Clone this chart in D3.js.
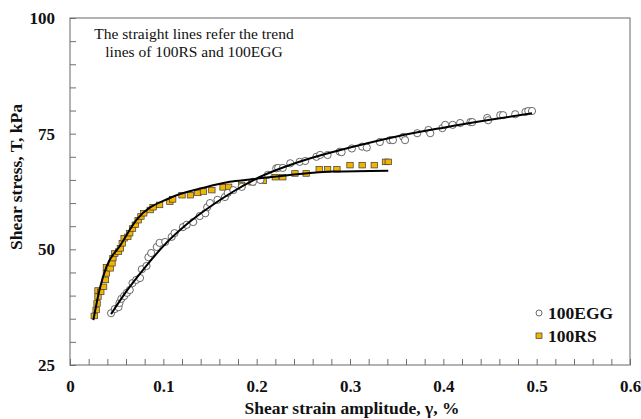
<!DOCTYPE html>
<html>
<head>
  <meta charset="utf-8">
  <title>Shear stress vs shear strain amplitude</title>
  <script src="https://d3js.org/d3.v7.min.js"></script>
  <style>
    body { margin: 0; background: white; }
    svg { display: block; font-family: "Liberation Serif", "DejaVu Serif", serif; }
  </style>
</head>
<body>
<div id="container"></div>
<script>
  const width = 641,
    height = 419;
  const margin = { top: 18, right: 11, bottom: 54, left: 70 };

  // 100EGG measured points [strain %, stress kPa]
  const eggPoints = [
    [0.044, 36.2], [0.048, 37.1], [0.052, 37.5], [0.053, 38.4], [0.055, 39.3],
    [0.058, 39.9], [0.061, 40.6], [0.064, 41.2], [0.067, 42.7], [0.071, 43.4],
    [0.075, 43.8], [0.077, 45.7], [0.082, 46.4], [0.084, 48.3], [0.087, 49.2],
    [0.093, 50.5], [0.096, 51.4], [0.102, 51.6], [0.109, 52.7], [0.112, 53.5],
    [0.121, 54.8], [0.125, 55.3], [0.132, 55.9], [0.139, 57.2], [0.145, 57.8],
    [0.147, 59.1], [0.150, 60.0], [0.158, 60.7], [0.166, 61.3], [0.169, 62.2],
    [0.175, 62.8], [0.184, 63.5], [0.196, 64.6], [0.204, 65.0], [0.212, 66.1],
    [0.221, 67.5], [0.223, 67.6], [0.228, 67.6], [0.236, 68.6], [0.246, 68.9],
    [0.252, 69.1], [0.264, 70.0], [0.268, 70.4], [0.276, 70.4], [0.289, 71.1],
    [0.291, 71.0], [0.302, 71.8], [0.313, 72.2], [0.318, 72.0], [0.332, 73.2],
    [0.343, 73.6], [0.346, 73.6], [0.357, 74.3], [0.359, 73.6], [0.372, 75.1],
    [0.384, 75.8], [0.386, 75.1], [0.399, 76.2], [0.402, 76.9], [0.410, 76.9],
    [0.418, 77.3], [0.429, 77.5], [0.431, 77.5], [0.447, 78.4], [0.448, 77.9],
    [0.461, 79.0], [0.464, 79.0], [0.477, 79.2], [0.488, 79.7], [0.491, 79.9],
    [0.495, 79.9]
  ];

  // 100RS measured points [strain %, stress kPa]
  const rsPoints = [
    [0.026, 35.6], [0.028, 36.9], [0.029, 38.3], [0.030, 39.8], [0.030, 41.1],
    [0.033, 40.8], [0.036, 41.9], [0.038, 43.4], [0.039, 44.8], [0.039, 46.1],
    [0.043, 45.9], [0.045, 47.0], [0.046, 48.1], [0.048, 49.1], [0.052, 49.5],
    [0.054, 50.2], [0.056, 51.3], [0.058, 52.4], [0.062, 52.7], [0.064, 53.5],
    [0.067, 54.5], [0.070, 55.3], [0.073, 56.3], [0.076, 57.1], [0.079, 57.8],
    [0.086, 58.5], [0.089, 59.1], [0.096, 59.6], [0.107, 60.3], [0.110, 60.8],
    [0.120, 61.7], [0.129, 61.7], [0.137, 62.2], [0.143, 62.5], [0.152, 62.8],
    [0.164, 63.4], [0.170, 63.5], [0.184, 63.9], [0.195, 64.5], [0.207, 64.8],
    [0.220, 65.6], [0.228, 65.6], [0.241, 66.4], [0.253, 66.4], [0.267, 67.3],
    [0.276, 67.3], [0.286, 67.3], [0.300, 68.2], [0.313, 68.2], [0.326, 68.2],
    [0.338, 68.9], [0.341, 68.9]
  ];

  // trend lines
  const eggTrend = [
    [0.044, 36.0], [0.06, 40.8], [0.08, 46.0], [0.10, 50.7], [0.125, 55.4],
    [0.15, 59.2], [0.175, 62.5], [0.20, 65.3], [0.25, 69.2], [0.30, 72.0],
    [0.35, 74.4], [0.40, 76.3], [0.45, 78.0], [0.495, 79.4]
  ];
  const rsTrend = [
    [0.025, 34.7], [0.032, 41.6], [0.039, 46.2], [0.054, 50.9], [0.071, 56.3],
    [0.107, 61.1], [0.143, 63.3], [0.171, 64.6], [0.193, 65.1], [0.246, 66.3],
    [0.282, 66.8], [0.341, 67.0]
  ];

  const xTicks = [0, 0.1, 0.2, 0.3, 0.4, 0.5, 0.6];
  const yTicks = [25, 50, 75, 100];
  const xMinor = d3.range(0, 0.6001, 0.02);
  const yMinor = d3.range(25, 100.001, 5);

  const svg = d3.select("#container")
    .append("svg")
    .attr("width", width)
    .attr("height", height)
    .style("background-color", "white");

  const x = d3.scaleLinear()
    .domain([0, 0.6])
    .range([margin.left, width - margin.right]);

  const y = d3.scaleLinear()
    .domain([25, 100])
    .range([height - margin.bottom, margin.top]);

  // frame
  svg.append("rect")
    .attr("x", x(0))
    .attr("y", y(100))
    .attr("width", x(0.6) - x(0))
    .attr("height", y(25) - y(100))
    .attr("fill", "none")
    .attr("stroke", "#8a8a8a")
    .attr("stroke-width", 1.3);

  // minor ticks inside
  svg.append("g")
    .attr("transform", "translate(0," + y(25) + ")")
    .call(d3.axisTop(x).tickValues(xMinor).tickSize(6).tickFormat(""))
    .call(g => g.select(".domain").remove())
    .call(g => g.selectAll("line").attr("stroke", "#6e6e6e"));

  svg.append("g")
    .attr("transform", "translate(" + x(0) + ",0)")
    .call(d3.axisRight(y).tickValues(yMinor).tickSize(6).tickFormat(""))
    .call(g => g.select(".domain").remove())
    .call(g => g.selectAll("line").attr("stroke", "#6e6e6e"));

  // tick labels
  svg.append("g")
    .attr("transform", "translate(0," + y(25) + ")")
    .call(d3.axisBottom(x).tickValues(xTicks).tickSize(0).tickPadding(15)
      .tickFormat(d => d === 0 ? "0" : d3.format(".1f")(d)))
    .call(g => g.select(".domain").remove())
    .call(g => g.selectAll("text")
      .attr("font-family", "Liberation Serif, serif")
      .attr("font-size", 17)
      .attr("font-weight", "bold")
      .attr("fill", "#111"));

  svg.append("g")
    .attr("transform", "translate(" + x(0) + ",0)")
    .call(d3.axisLeft(y).tickValues(yTicks).tickSize(0).tickPadding(15))
    .call(g => g.select(".domain").remove())
    .call(g => g.selectAll("text")
      .attr("font-family", "Liberation Serif, serif")
      .attr("font-size", 17)
      .attr("font-weight", "bold")
      .attr("fill", "#111"));

  // axis titles
  svg.append("text")
    .attr("x", 352)
    .attr("y", 414)
    .attr("text-anchor", "middle")
    .attr("font-size", 17.5)
    .attr("font-weight", "bold")
    .attr("fill", "#111")
    .text("Shear strain amplitude, \u03b3, %");

  svg.append("text")
    .attr("transform", "translate(22," + 177 + ") rotate(-90)")
    .attr("text-anchor", "middle")
    .attr("font-size", 17.5)
    .attr("font-weight", "bold")
    .attr("fill", "#111")
    .text("Shear stress, T, kPa");

  // note
  const note = svg.append("text")
    .attr("text-anchor", "middle")
    .attr("font-size", 15.5)
    .attr("fill", "#111");
  note.append("tspan").attr("x", 194).attr("y", 39).text("The straight lines refer the trend");
  note.append("tspan").attr("x", 194).attr("y", 57).text("lines of 100RS and 100EGG");

  const line = d3.line()
    .x(d => x(d[0]))
    .y(d => y(d[1]))
    .curve(d3.curveMonotoneX);

  // 100RS squares
  svg.append("g")
    .selectAll("rect")
    .data(rsPoints)
    .join("rect")
    .attr("x", d => x(d[0]) - 3.2)
    .attr("y", d => y(d[1]) - 2.8)
    .attr("width", 6.4)
    .attr("height", 5.6)
    .attr("fill", "#f2b400")
    .attr("stroke", "#3a3a3a")
    .attr("stroke-width", 0.7);

  // 100EGG circles
  svg.append("g")
    .selectAll("circle")
    .data(eggPoints)
    .join("circle")
    .attr("cx", d => x(d[0]))
    .attr("cy", d => y(d[1]))
    .attr("r", 3.6)
    .attr("fill", "white")
    .attr("stroke", "#444")
    .attr("stroke-width", 0.8);

  // trend lines
  svg.append("path")
    .datum(rsTrend)
    .attr("d", line)
    .attr("fill", "none")
    .attr("stroke", "#000")
    .attr("stroke-width", 2);

  svg.append("path")
    .datum(eggTrend)
    .attr("d", line)
    .attr("fill", "none")
    .attr("stroke", "#000")
    .attr("stroke-width", 2);

  // legend
  const legend = svg.append("g").attr("font-size", 17.5).attr("font-weight", "bold").attr("fill", "#111");
  legend.append("circle")
    .attr("cx", 539).attr("cy", 313).attr("r", 3)
    .attr("fill", "white").attr("stroke", "#444").attr("stroke-width", 0.8);
  legend.append("text").attr("x", 548).attr("y", 319).text("100EGG");
  legend.append("rect")
    .attr("x", 536).attr("y", 333).attr("width", 6).attr("height", 5.4)
    .attr("fill", "#f2b400").attr("stroke", "#3a3a3a").attr("stroke-width", 0.7);
  legend.append("text").attr("x", 548).attr("y", 342).text("100RS");
</script>
</body>
</html>
